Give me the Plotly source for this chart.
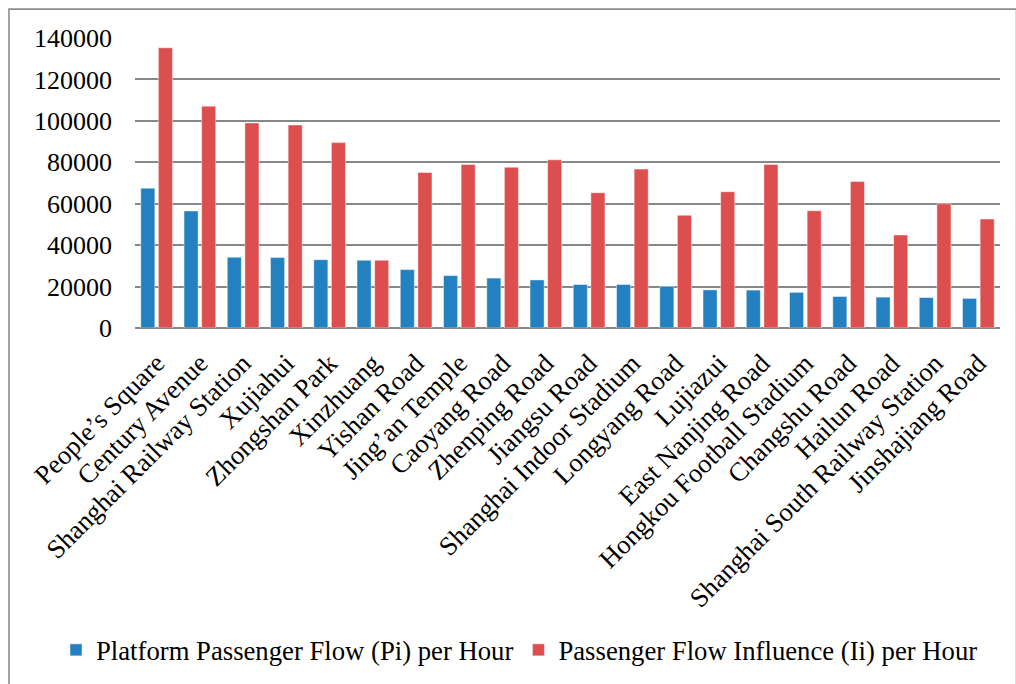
import plotly.graph_objects as go

# Stations on the network, ordered by platform passenger flow
stations = [
    "People’s Square", "Century Avenue", "Shanghai Railway Station", "Xujiahui",
    "Zhongshan Park", "Xinzhuang", "Yishan Road", "Jing’an Temple",
    "Caoyang Road", "Zhenping Road", "Jiangsu Road", "Shanghai Indoor Stadium",
    "Longyang Road", "Lujiazui", "East Nanjing Road", "Hongkou Football Stadium",
    "Changshu Road", "Hailun Road", "Shanghai South Railway Station", "Jinshajiang Road",
]

# Platform passenger flow (Pi) per hour
platform_flow = [
    67500, 56500, 34200, 34000, 33000, 32700, 28200, 25300, 24100, 23200,
    21000, 21000, 20100, 18400, 18300, 17200, 15200, 14900, 14700, 14300,
]

# Passenger flow influence (Ii) per hour
flow_influence = [
    135300, 107100, 99000, 98000, 89500, 32700, 75100, 78900, 77600, 81200,
    65300, 76700, 54400, 65800, 78900, 56600, 70700, 44900, 60000, 52600,
]

y_ticks = [0, 20000, 40000, 60000, 80000, 100000, 120000, 140000]

series_names = [
    "Platform Passenger Flow (Pi) per Hour",
    "Passenger Flow Influence (Ii) per Hour",
]

FONT = "Liberation Serif"
BLUE = "#2381c1"
RED = "#dd4f4f"
GRID = "#878787"

fig = go.Figure()
fig.add_trace(go.Bar(
    x=stations, y=platform_flow, name=series_names[0],
    marker=dict(color=BLUE, line=dict(color="rgba(255,255,255,0.45)", width=1)),
))
fig.add_trace(go.Bar(
    x=stations, y=flow_influence, name=series_names[1],
    marker=dict(color=RED, line=dict(color="rgba(255,255,255,0.45)", width=1)),
))

# Plot-area geometry in pixels, used to place the frame in paper units
L, R, T, B = 135, 1000, 38, 329
W, H = R - L, B - T


def px_x(x):
    return (x - L) / W


def px_y(y):
    return (B - y) / H


fig.update_layout(
    template="none",
    width=1016, height=684,
    margin=dict(l=L, r=1016 - R, t=T, b=684 - B),
    paper_bgcolor="white", plot_bgcolor="white",
    font=dict(family=FONT, size=26, color="black"),
    barmode="group", bargap=0.186, bargroupgap=0.2,
    showlegend=True,
    legend=dict(
        orientation="h", x=px_x(56), xanchor="left",
        y=px_y(650), yanchor="middle",
        font=dict(family=FONT, size=26.7, color="black"),
        bgcolor="rgba(0,0,0,0)", borderwidth=0, traceorder="normal",
        itemclick=False, itemdoubleclick=False,
    ),
    xaxis=dict(
        tickangle=-45, ticks="outside", ticklen=8, tickcolor="rgba(0,0,0,0)",
        showgrid=False, showline=False, zeroline=False,
        tickfont=dict(family=FONT, size=26.6, color="black"),
        fixedrange=True,
    ),
    yaxis=dict(
        range=[0, 140000], tickvals=y_ticks, ticktext=[str(v) for v in y_ticks],
        ticks="", showline=False, showgrid=True,
        gridcolor=GRID, gridwidth=1.6,
        zeroline=True, zerolinecolor=GRID, zerolinewidth=1.8,
        tickfont=dict(family=FONT, size=26, color="black"),
        ticklabelstandoff=22, fixedrange=True,
    ),
    shapes=[dict(
        type="rect", xref="paper", yref="paper", layer="below",
        x0=px_x(9), x1=px_x(1016.5), y0=px_y(700), y1=px_y(9),
        line=dict(color="#8c8c8c", width=1.6), fillcolor="rgba(0,0,0,0)",
    )],
)

fig.write_html("out.html")
